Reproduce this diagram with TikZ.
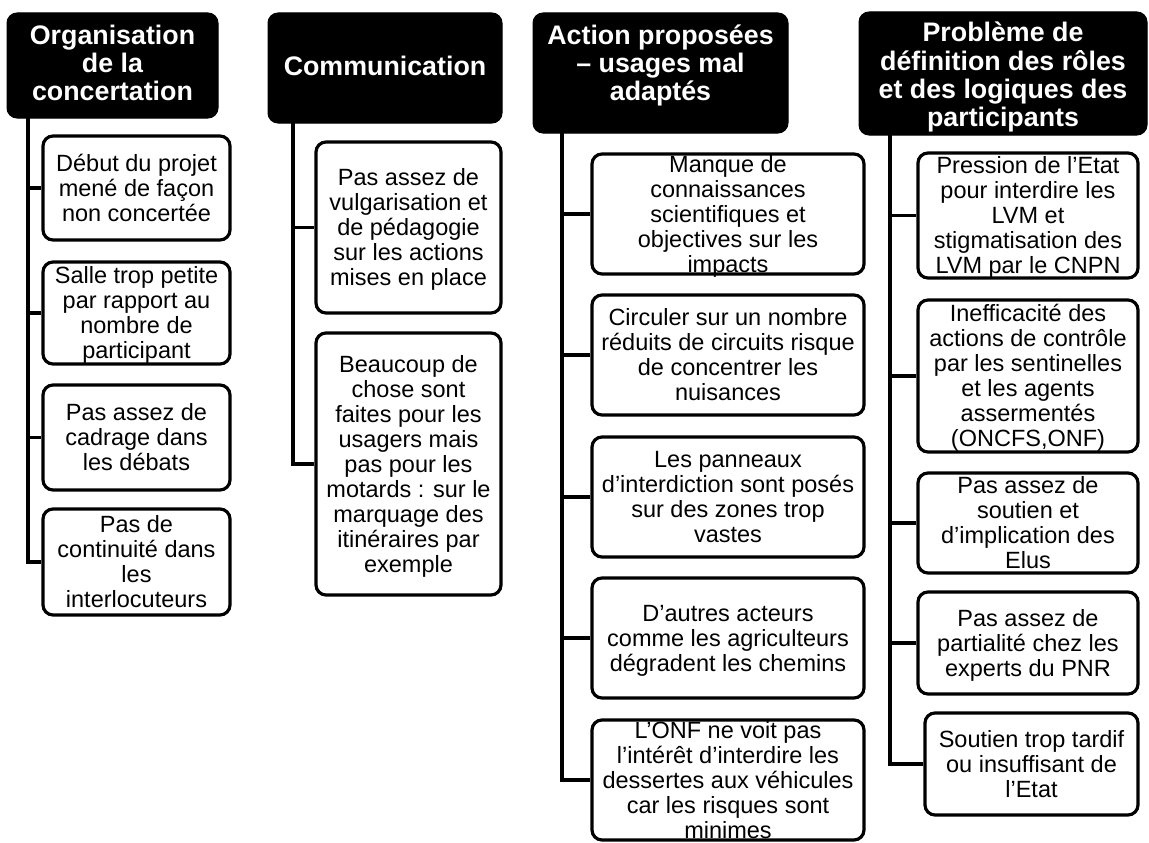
\documentclass[tikz,border=0pt]{standalone}
\usepackage{fontspec}
\setmainfont{Liberation Sans}
\newcommand\ctrtext[1]{\raisebox{-19pt}{\smash{\begin{tabular}{@{}c@{}}#1\end{tabular}}}}
\newcommand\ctrhead[2]{\raisebox{#1}{\smash{\begin{tabular}{@{}c@{}}#2\end{tabular}}}}
\begin{document}
\begin{tikzpicture}[x=1pt,y=-1pt,
  headbox/.style={fill=black,draw=black,line width=1pt,rounded corners=10pt,text=white,inner sep=0pt,font=\fontsize{26.8}{28}\selectfont\bfseries},
  itembox/.style={fill=white,draw=black,line width=3.2pt,rounded corners=10pt,inner sep=0pt,font=\fontsize{23.5}{25}\selectfont},
  link/.style={draw=black,line width=3.2pt}]
\useasboundingbox (0,0) rectangle (1149,843);
% headers
\node[headbox,minimum width=211pt,minimum height=105pt] (h1) at (112.5,65.5) {\ctrhead{-16pt}{Organisation\\de la\\concertation}};
\node[headbox,minimum width=234pt,minimum height=110pt] (h2) at (385,68) {\ctrhead{-16pt}{Communication}};
\node[headbox,minimum width=255pt,minimum height=120pt] (h3) at (660.5,73) {\ctrhead{0pt}{Action proposées\\– usages mal\\adaptés}};
\node[headbox,minimum width=288pt,minimum height=123pt] (h4) at (1003,73.5) {\ctrhead{-22pt}{Problème de\\définition des rôles\\et des logiques des\\participants}};
% trunk tops
\coordinate (t1) at (28,118);
\coordinate (t2) at (293,123);
\coordinate (t3) at (562,133);
\coordinate (t4) at (890,135);
% column 1
\node[itembox,minimum width=187pt,minimum height=104pt] (c11) at (136.5,188) {\ctrtext{Début du projet\\mené de façon\\non concertée}};
\node[itembox,minimum width=187pt,minimum height=102pt] (c12) at (136.5,313) {\ctrtext{Salle trop petite\\par rapport au\\nombre de\\participant}};
\node[itembox,minimum width=187pt,minimum height=105pt] (c13) at (136.5,437.5) {\ctrtext{Pas assez de\\cadrage dans\\les débats}};
\node[itembox,minimum width=187pt,minimum height=106pt] (c14) at (136.5,562) {\ctrtext{Pas de\\continuité dans\\les\\interlocuteurs}};
% column 2
\node[itembox,minimum width=185pt,minimum height=171pt] (c21) at (408.5,227.5) {\ctrtext{Pas assez de\\vulgarisation et\\de pédagogie\\sur les actions\\mises en place}};
\node[itembox,minimum width=185pt,minimum height=262pt] (c22) at (408.5,464) {\ctrtext{Beaucoup de\\chose sont\\faites pour les\\usagers mais\\pas pour les\\motards : sur le\\marquage des\\itinéraires par\\exemple}};
% column 3
\node[itembox,minimum width=272pt,minimum height=120pt] (c31) at (728,214) {\ctrtext{Manque de\\connaissances\\scientifiques et\\objectives sur les\\impacts}};
\node[itembox,minimum width=272pt,minimum height=120pt] (c32) at (728,355) {\ctrtext{Circuler sur un nombre\\réduits de circuits risque\\de concentrer les\\nuisances}};
\node[itembox,minimum width=272pt,minimum height=120pt] (c33) at (728,497) {\ctrtext{Les panneaux\\d’interdiction sont posés\\sur des zones trop\\vastes}};
\node[itembox,minimum width=272pt,minimum height=120pt] (c34) at (728,638) {\ctrtext{D’autres acteurs\\comme les agriculteurs\\dégradent les chemins}};
\node[itembox,minimum width=272pt,minimum height=120pt] (c35) at (728,780) {\ctrtext{L’ONF ne voit pas\\l’intérêt d’interdire les\\dessertes aux véhicules\\car les risques sont\\minimes}};
% column 4
\node[itembox,minimum width=220pt,minimum height=125pt] (c41) at (1028,215.5) {\ctrtext{Pression de l’Etat\\pour interdire les\\LVM et\\stigmatisation des\\LVM par le CNPN}};
\node[itembox,minimum width=220pt,minimum height=152pt] (c42) at (1028,376) {\ctrtext{Inefficacité des\\actions de contrôle\\par les sentinelles\\et les agents\\assermentés\\(ONCFS,ONF)}};
\node[itembox,minimum width=220pt,minimum height=100pt] (c43) at (1028,523) {\ctrtext{Pas assez de\\soutien et\\d’implication des\\Elus}};
\node[itembox,minimum width=220pt,minimum height=102pt] (c44) at (1028,643) {\ctrtext{Pas assez de\\partialité chez les\\experts du PNR}};
\node[itembox,minimum width=213pt,minimum height=102pt] (c45) at (1031.5,764) {\ctrtext{Soutien trop tardif\\ou insuffisant de\\l’Etat}};
% connectors
\draw[link] (t1) |- (c11.west);
\draw[link] (t1) |- (c12.west);
\draw[link] (t1) |- (c13.west);
\draw[link] (t1) |- (c14.west);
\draw[link] (t2) |- (c21.west);
\draw[link] (t2) |- (c22.west);
\draw[link] (t3) |- (c31.west);
\draw[link] (t3) |- (c32.west);
\draw[link] (t3) |- (c33.west);
\draw[link] (t3) |- (c34.west);
\draw[link] (t3) |- (c35.west);
\draw[link] (t4) |- (c41.west);
\draw[link] (t4) |- (c42.west);
\draw[link] (t4) |- (c43.west);
\draw[link] (t4) |- (c44.west);
\draw[link] (t4) |- (c45.west);
\end{tikzpicture}
\end{document}
